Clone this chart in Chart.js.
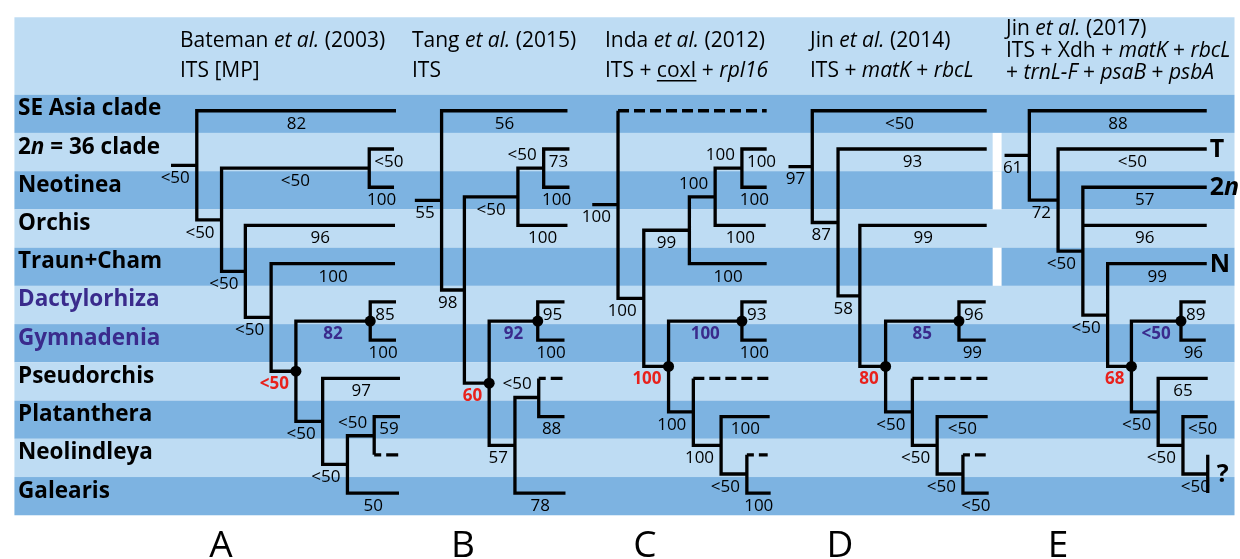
<!DOCTYPE html>
<html>
<head>
<meta charset="utf-8">
<script src="https://cdn.jsdelivr.net/npm/chart.js@4.4.0/dist/chart.umd.min.js"></script>
<style>
  html, body { margin: 0; padding: 0; background: #fff; overflow: hidden; }
  canvas { display: block; }
</style>
</head>
<body>
<canvas id="trees" width="1240" height="559"></canvas>
<script>
// rows of the figure, top to bottom
const taxa = ['SE Asia clade', '2n = 36 clade', 'Neotinea', 'Orchis', 'Traun+Cham',
  'Dactylorhiza', 'Gymnadenia', 'Pseudorchis', 'Platanthera', 'Neolindleya', 'Galearis'];
const purpleTaxa = ['Dactylorhiza', 'Gymnadenia'];

const panels = ['A', 'B', 'C', 'D', 'E'];
// _x_ = italic, ~x~ = underlined
const studies = [
  ['Bateman _et al._ (2003)', 'ITS [MP]'],
  ['Tang _et al._ (2015)', 'ITS'],
  ['Inda _et al._ (2012)', 'ITS + ~coxI~ + _rpl16_'],
  ['Jin _et al._ (2014)', 'ITS + _matK_ + _rbcL_'],
  ['Jin _et al._ (2017)', 'ITS + Xdh + _matK_ + _rbcL_', '+ _trnL-F_ + _psaB_ + _psbA_']
];

// tree helpers: N = clade (x of its vertical line), T = tip (row, x where the branch stops)
const N = (x, lab, kids, o) => Object.assign({ x, lab, kids }, o);
const T = (row, end, lab, o) => Object.assign({ row, end, lab }, o);

const treeA = N(193, '<50', [
  T(0, 394, '82'),
  N(218, '<50', [
    N(367, '<50', [T(1, 392, '<50'), T(2, 392, '100')]),
    N(242, '<50', [
      T(3, 393, '96'),
      N(268, '<50', [
        T(4, 393, '100'),
        N(293, '<50', [
          N(368, '82', [T(5, 394, '85'), T(6, 394, '100')], { col: 'blue', dot: true }),
          N(320, '<50', [
            T(7, 398, '97'),
            N(345, '<50', [
              N(372, '<50', [T(8, 398, '59'), T(9, 397, '', { dash: 'short' })], { pos: 'up' }),
              T(10, 397, '50')
            ])
          ])
        ], { col: 'red', dot: true })
      ])
    ])
  ])
], { stub: 167 });

const treeB = N(440, '55', [
  T(0, 567, '56'),
  N(463, '98', [
    N(517, '<50', [
      N(543, '<50', [T(1, 569, '73'), T(2, 569, '100')], { pos: 'up' }),
      T(3, 567, '100')
    ]),
    N(488, '60', [
      N(537, '92', [T(5, 564, '95'), T(6, 564, '100')], { col: 'blue', dot: true }),
      N(514, '57', [
        N(538, '<50', [T(7, 562, '', { dash: 'short' }), T(8, 564, '88')], { pos: 'up' }),
        T(10, 565, '78')
      ])
    ], { col: 'red', dot: true })
  ])
], { stub: 413 });

const treeC = N(618, '100', [
  T(0, 768, '', { dash: 'long' }),
  N(644, '100', [
    N(690, '99', [
      N(716, '100', [
        N(743, '100', [T(1, 768, '100'), T(2, 768, '100')], { pos: 'up' }),
        T(3, 767, '100')
      ], { pos: 'up' }),
      T(4, 768, '100')
    ]),
    N(669, '100', [
      N(743, '100', [T(5, 768, '93'), T(6, 768, '100')], { col: 'blue', dot: true }),
      N(694, '100', [
        T(7, 772, '', { dash: 'long' }),
        N(722, '100', [
          T(8, 771, '100'),
          N(748, '<50', [T(9, 769, '', { dash: 'short' }), T(10, 772, '100')])
        ])
      ])
    ], { col: 'red', dot: true })
  ])
], { stub: 592 });

const treeD = N(814, '97', [
  T(0, 990, '<50'),
  N(840, '87', [
    T(1, 990, '93'),
    N(862, '58', [
      T(3, 990, '99'),
      N(888, '80', [
        N(962, '85', [T(5, 989, '96'), T(6, 989, '99')], { col: 'blue', dot: true }),
        N(915, '<50', [
          T(7, 992, '', { dash: 'long' }),
          N(940, '<50', [
            T(8, 991, '<50'),
            N(966, '<50', [T(9, 989, '', { dash: 'short' }), T(10, 992, '<50')])
          ])
        ])
      ], { col: 'red', dot: true })
    ])
  ])
], { stub: 790 });

const treeE = N(1033, '61', [
  T(0, 1212, '88'),
  N(1062, '72', [
    T(1, 1212, '<50', { mark: 'T' }),
    N(1087, '<50', [
      T(2, 1212, '57', { mark: '2n' }),
      T(3, 1212, '96'),
      N(1112, '<50', [
        T(4, 1212, '99', { mark: 'N' }),
        N(1136, '68', [
          N(1186, '<50', [T(5, 1211, '89'), T(6, 1211, '96')], { col: 'blue', dot: true }),
          N(1163, '<50', [
            T(7, 1213, '65'),
            N(1188, '<50', [
              T(8, 1213, '<50'),
              T([9, 10], 1213, '<50', { bar: true, mark: '?' })
            ])
          ])
        ], { col: 'red', dot: true })
      ])
    ])
  ])
], { stub: 1008 });

const trees = [treeA, treeB, treeC, treeD, treeE];

// ---- look ----
const dark = '#7db3e1';
const light = '#bedcf3';
const colors = { red: '#e8211c', blue: '#3a2b8c' };
const font = '"Open Sans", "Noto Sans", sans-serif';
const tipOffset = 0.42;   // tips sit a bit above the middle of their row
const labelGap = 0.34;    // support values sit this far (rows) off the branch
const headerTop = -79 / 39;
const bandLeft = 9;
const dividerRows = [1, 2, 4];  // white gap before Jin (2017)

function place(n) {
  if (n.kids) {
    n.kids.forEach(place);
    n.y = (n.kids[0].y + n.kids[n.kids.length - 1].y) / 2;
  } else {
    const r = [].concat(n.row);
    n.y = (r[0] + r[r.length - 1]) / 2 + tipOffset;
  }
}
trees.forEach(place);

const gap = { x: null, y: null };
const solid = [], longDash = [], shortDash = [], dots = [];
trees.forEach(root => {
  solid.push({ x: root.stub, y: root.y }, { x: root.x, y: root.y }, gap);
  (function walk(n) {
    if (n.dot) dots.push({ x: n.x, y: n.y });
    n.kids.forEach((k, i) => {
      k.first = i === 0;
      const kx = k.kids ? k.x : k.end;
      if (k.dash) {
        solid.push({ x: n.x, y: n.y }, { x: n.x, y: k.y }, gap);
        (k.dash === 'long' ? longDash : shortDash).push({ x: n.x, y: k.y }, { x: kx, y: k.y }, gap);
      } else {
        solid.push({ x: n.x, y: n.y }, { x: n.x, y: k.y }, { x: kx, y: k.y }, gap);
      }
      if (k.bar) solid.push({ x: kx, y: k.row[0] + tipOffset }, { x: kx, y: k.row[1] + tipOffset }, gap);
      if (k.kids) walk(k);
    });
  })(root);
});

function runs(str) {
  return str.split(/(_[^_]+_|~[^~]+~)/).filter(s => s).map(s => {
    if (s[0] === '_') return [s.slice(1, -1), 'i'];
    if (s[0] === '~') return [s.slice(1, -1), 'u'];
    return [s, ''];
  });
}

function drawRuns(ctx, parts, x, y, size, base) {
  parts.forEach(([txt, st]) => {
    const style = (st.includes('i') ? 'italic ' : '') + ((base + st).includes('b') ? 'bold ' : '');
    ctx.font = style + size + 'px ' + font;
    ctx.fillText(txt, x, y);
    const w = ctx.measureText(txt).width;
    if (st.includes('u')) ctx.fillRect(x, y + 3, w, 1.5);
    x += w;
  });
}

const backdrop = {
  id: 'backdrop',
  beforeDatasetsDraw(chart) {
    const { ctx, scales: { x, y } } = chart;
    const left = x.getPixelForValue(bandLeft), right = x.getPixelForValue(1240);
    ctx.save();
    ctx.fillStyle = light;
    ctx.fillRect(left, y.getPixelForValue(headerTop), right - left, y.getPixelForValue(0) - y.getPixelForValue(headerTop));
    taxa.forEach((t, i) => {
      ctx.fillStyle = i % 2 ? light : dark;
      const top = y.getPixelForValue(i), bot = y.getPixelForValue(i + 1);
      ctx.fillRect(left, top, right - left, bot - top);
    });
    ctx.fillStyle = '#fff';
    dividerRows.forEach(i => {
      const top = y.getPixelForValue(i), bot = y.getPixelForValue(i + 1);
      ctx.fillRect(x.getPixelForValue(996), top, x.getPixelForValue(1005) - x.getPixelForValue(996), bot - top);
    });
    ctx.restore();
  }
};

const texts = {
  id: 'texts',
  afterDatasetsDraw(chart) {
    const { ctx, scales: { x, y } } = chart;
    ctx.save();

    // support values and tip marks
    trees.forEach(root => {
      (function walk(n, px) {
        const endX = n.kids ? n.x : n.end;
        if (n.lab) {
          ctx.font = (n.col ? 'bold ' : '') + '17px ' + font;
          ctx.fillStyle = n.col ? colors[n.col] : '#000';
          ctx.textAlign = 'center';
          ctx.textBaseline = 'middle';
          const w = ctx.measureText(n.lab).width;
          const a = x.getPixelForValue(px), b = x.getPixelForValue(endX);
          let cx = (a + b) / 2;
          if (n.kids) cx = Math.min(cx, b - 7 - w / 2);
          else if (n.first) cx = Math.max(cx, a + 5 + w / 2);  // keep clear of the vertical below
          ctx.fillText(n.lab, cx, y.getPixelForValue(n.y + (n.pos === 'up' ? -labelGap : labelGap)));
        }
        if (n.mark) {
          ctx.fillStyle = '#000';
          ctx.textAlign = 'left';
          ctx.textBaseline = 'middle';
          const parts = n.mark === '2n' ? [['2', ''], ['n', 'i']] : [[n.mark, '']];
          drawRuns(ctx, parts, x.getPixelForValue(endX) + (n.bar ? 9 : 3), y.getPixelForValue(n.y) + 1, 25, 'b');
        }
        if (n.kids) n.kids.forEach(k => walk(k, n.x));
      })(root, root.stub);
    });

    // row names
    ctx.textAlign = 'left';
    ctx.textBaseline = 'alphabetic';
    taxa.forEach((t, i) => {
      ctx.fillStyle = purpleTaxa.includes(t) ? colors.blue : '#000';
      const parts = t.startsWith('2n') ? [['2', ''], ['n', 'i'], [t.slice(2), '']] : [[t, '']];
      drawRuns(ctx, parts, 18, y.getPixelForValue(i + 21 / 39), 22.5, 'b');
    });

    // study headers
    ctx.fillStyle = '#000';
    const headX = [180, 412, 605, 810, 1006];
    studies.forEach((lines, p) => {
      const first = lines.length > 2 ? 35 : 47, step = lines.length > 2 ? 22 : 30;
      lines.forEach((ln, j) => drawRuns(ctx, runs(ln), headX[p], first + j * step, 21, ''));
    });

    // panel letters
    ctx.textAlign = 'center';
    ctx.font = '37px ' + font;
    const letterX = [221, 463, 645, 840, 1058];
    panels.forEach((p, i) => ctx.fillText(p, letterX[i], 557));
    ctx.restore();
  }
};

const line = (data, dash) => ({
  data, showLine: true, pointRadius: 0, borderColor: '#000', borderWidth: 3.3,
  borderDash: dash, borderJoinStyle: 'miter', borderCapStyle: 'butt',
  spanGaps: false, fill: false, clip: false, tension: 0
});

new Chart(document.getElementById('trees'), {
  type: 'scatter',
  data: {
    datasets: [
      line(solid, []),
      line(longDash, [11, 5]),
      line(shortDash, [7, 5, 12, 99]),
      { data: dots, pointRadius: 5.5, pointBackgroundColor: '#000', pointBorderWidth: 0, clip: false }
    ]
  },
  options: {
    responsive: false,
    devicePixelRatio: 1,
    animation: false,
    events: [],
    layout: { padding: 0 },
    plugins: { legend: { display: false }, tooltip: { enabled: false } },
    scales: {
      x: { type: 'linear', min: 0, max: 1240, display: false },
      y: { type: 'linear', min: -91 / 39, max: 468 / 39, reverse: true, display: false }
    }
  },
  plugins: [backdrop, texts]
});
</script>
</body>
</html>
